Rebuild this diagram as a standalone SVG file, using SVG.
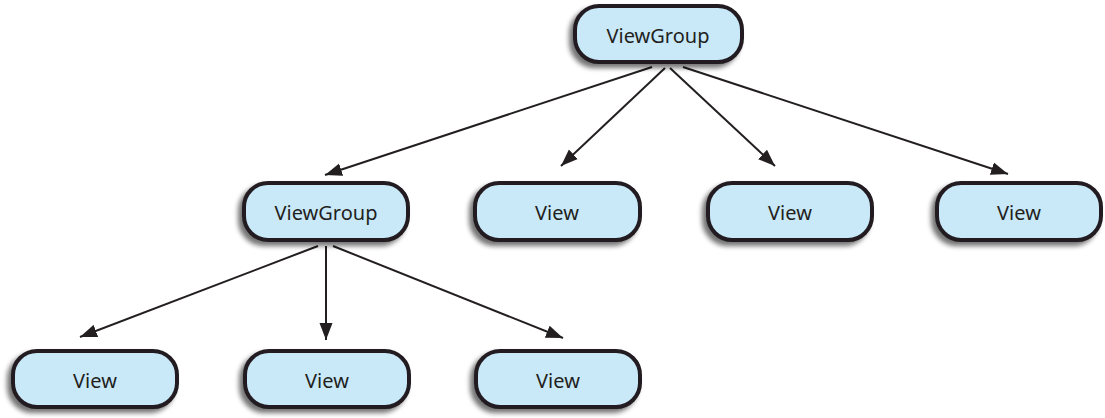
<svg xmlns="http://www.w3.org/2000/svg" width="1105" height="418" viewBox="0 0 1105 418">
<defs>
<filter id="sh" x="-20%" y="-30%" width="140%" height="170%">
<feGaussianBlur in="SourceAlpha" stdDeviation="2.5"/>
<feOffset dx="-4" dy="4" result="b"/>
<feComponentTransfer><feFuncA type="linear" slope="0.55"/></feComponentTransfer>
<feMerge><feMergeNode/><feMergeNode in="SourceGraphic"/></feMerge>
</filter>
<marker id="ah" markerUnits="userSpaceOnUse" markerWidth="20" markerHeight="14" refX="17" refY="7" orient="auto">
<path d="M0,0.5 L17,7 L0,13.5 Z" fill="#231f20"/>
</marker>
</defs>
<style>
.n rect{fill:#c9e9f9;stroke:#231f20;stroke-width:4;filter:url(#sh)}
.n text{font-family:"Noto Sans","Open Sans",sans-serif;font-size:20px;fill:#231f20;text-anchor:middle;dominant-baseline:central}
.e line{stroke:#231f20;stroke-width:2;marker-end:url(#ah)}
</style>
<g id="connectors" class="e">
<line x1="652" y1="67" x2="325" y2="175"/>
<line x1="665" y1="68" x2="561" y2="166"/>
<line x1="670" y1="68" x2="775" y2="166"/>
<line x1="683" y1="67" x2="1008" y2="174"/>
<line x1="318" y1="246" x2="80" y2="337"/>
<line x1="326" y1="246" x2="326" y2="340"/>
<line x1="333" y1="246" x2="563" y2="338"/>
</g>
<g id="root" class="n"><rect x="575" y="6" width="167" height="56" rx="24"/><text x="658" y="35">ViewGroup</text></g>
<g id="vg2" class="n"><rect x="244" y="183" width="164" height="57" rx="24"/><text x="326" y="212">ViewGroup</text></g>
<g id="v1" class="n"><rect x="475" y="183" width="165" height="57" rx="24"/><text x="557" y="212">View</text></g>
<g id="v2" class="n"><rect x="708" y="183" width="164" height="57" rx="24"/><text x="790" y="212">View</text></g>
<g id="v3" class="n"><rect x="937" y="183" width="164" height="57" rx="24"/><text x="1019" y="212">View</text></g>
<g id="v4" class="n"><rect x="13" y="351" width="164" height="56" rx="24"/><text x="95" y="380">View</text></g>
<g id="v5" class="n"><rect x="245" y="351" width="164" height="56" rx="24"/><text x="327" y="380">View</text></g>
<g id="v6" class="n"><rect x="476" y="351" width="164" height="56" rx="24"/><text x="558" y="380">View</text></g>
</svg>
